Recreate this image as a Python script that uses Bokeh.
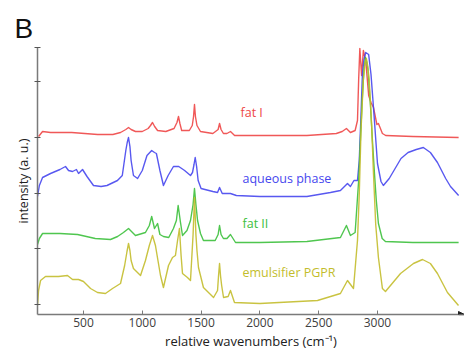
from bokeh.plotting import figure
from bokeh.models import FixedTicker, Label, Arrow, NormalHead
from bokeh.embed import file_html
from bokeh.resources import INLINE

# ---- data (relative wavenumber in cm^-1, stacked intensity in a.u.) ----
wn_fat1 = [118, 152, 220, 400, 620, 750, 815, 860, 883, 905, 942, 1000, 1050, 1070, 1087, 1105, 1130,
           1200, 1270, 1295, 1308, 1320, 1335, 1400, 1425, 1436, 1444, 1452, 1465, 1495, 1600, 1645,
           1657, 1670, 1690, 1720, 1750, 1785, 2000, 2400, 2650, 2700, 2736, 2770, 2810, 2830, 2840,
           2850, 2865, 2880, 2900, 2925, 2945, 2966, 2995, 3008, 3042, 3070, 3300, 3690]
int_fat1 = [178, 183, 182, 182, 180, 180, 182, 185, 187, 185, 183, 183, 186, 189, 192, 188, 184,
            183, 186, 192, 198, 191, 184, 184, 189, 198, 210, 198, 189, 183, 181, 185,
            191, 185, 181, 181, 183, 179, 179, 179, 181, 183, 186, 182, 184, 194, 235,
            266, 239, 264, 254, 219, 212, 207, 190, 191, 181, 179, 178, 177]

wn_aq = [109, 125, 152, 220, 300, 347, 373, 407, 440, 458, 492, 530, 585, 650, 700, 789, 830, 860,
         872, 883, 895, 905, 925, 960, 1000, 1040, 1080, 1104, 1120, 1150, 1180, 1220, 1265, 1310, 1360,
         1410, 1427, 1440, 1450, 1462, 1475, 1500, 1600, 1640, 1657, 1680, 1750, 1800, 2000, 2400, 2600,
         2685, 2745, 2770, 2800, 2830, 2845, 2860, 2872, 2885, 2900, 2925, 2945, 2966, 3000, 3030,
         3050, 3100, 3200, 3260, 3330, 3390, 3450, 3510, 3580, 3621, 3690]
int_aq = [118, 129, 137, 141, 145, 148, 144, 143, 145, 141, 145, 138, 129, 128, 129, 134, 139, 164,
          172, 177, 168, 154, 139, 136, 144, 159, 164, 162, 161, 144, 129, 139, 148, 148, 144,
          139, 142, 150, 157, 148, 134, 126, 123, 122, 127, 121, 121, 119, 118, 118, 122,
          124, 131, 128, 134, 134, 154, 200, 241, 255, 262, 260, 240, 207, 151, 133,
          129, 136, 156, 162, 165, 167, 162, 152, 136, 128, 119]

wn_fat2 = [109, 125, 152, 300, 450, 600, 730, 790, 840, 883, 942, 1027, 1060, 1080, 1104, 1130,
           1150, 1180, 1225, 1265, 1290, 1305, 1325, 1342, 1380, 1410, 1432, 1444, 1456, 1470, 1495,
           1520, 1620, 1645, 1657, 1670, 1690, 1720, 1750, 1793, 2000, 2400, 2685, 2736, 2770, 2810,
           2840, 2855, 2870, 2885, 2898, 2910, 2920, 2940, 2957, 2975, 2990, 3008, 3040, 3068, 3300,
           3690]
int_fat2 = [70, 76, 81, 81, 80, 76, 75, 78, 82, 86, 79, 82, 89, 98, 86, 91,
            80, 78, 77, 86, 94, 109, 92, 79, 84, 94, 110, 126, 110, 94, 81,
            74, 74, 80, 89, 80, 76, 76, 80, 72, 72, 73, 77, 89, 79, 82,
            134, 175, 214, 245, 257, 252, 244, 210, 174, 140, 114, 91, 76, 73, 72,
            72]

wn_pgpr = [109, 118, 135, 177, 288, 364, 407, 458, 500, 560, 619, 687, 747, 815, 850, 870, 883, 895,
           905, 925, 985, 1027, 1060, 1087, 1112, 1129, 1155, 1180, 1223, 1257, 1282, 1300, 1316, 1330,
           1342, 1384, 1410, 1432, 1444, 1456, 1465, 1478, 1520, 1606, 1640, 1648, 1657, 1666, 1675,
           1691, 1730, 1750, 1784, 2000, 2490, 2685, 2745, 2796, 2830, 2845, 2860, 2880, 2895, 2906,
           2918, 2930, 2950, 2966, 2985, 3008, 3042, 3068, 3196, 3306, 3383, 3450, 3510, 3595, 3689]
int_pgpr = [9, 24, 34, 38, 38, 39, 35, 35, 33, 26, 22, 21, 26, 31, 49, 63, 71, 64,
            54, 46, 39, 54, 69, 79, 69, 57, 39, 27, 49, 57, 59, 74, 86, 59,
            41, 37, 34, 80, 117, 80, 64, 47, 27, 17, 24, 38, 51, 38, 29,
            17, 18, 24, 12, 11, 14, 21, 34, 26, 74, 120, 184, 235, 252, 256,
            248, 234, 190, 141, 90, 57, 26, 23, 41, 51, 55, 51, 41, 22, 9]

series_names = ["fat I", "aqueous phase", "fat II", "emulsifier PGPR"]
series_colors = ["#ee4646", "#4646ee", "#3cc03c", "#c3bd2c"]
label_wn = [1835, 1852, 1852, 1852]
label_int = [202, 136, 91, 42]

x_ticks = [500, 1000, 1500, 2000, 2500, 3000]
y_ticks = [10, 66, 121, 177, 233, 267]

FONT = "Open Sans"

p = figure(width=464, height=350, output_backend="svg", toolbar_location=None,
           x_range=(109, 3740), y_range=(0, 267),
           min_border_left=37, min_border_right=0, min_border_top=47, min_border_bottom=36,
           frame_width=427, frame_height=267)
p.outline_line_color = None
p.grid.visible = False
p.background_fill_color = "white"

p.title.text = "B"
p.title.text_font = "Liberation Sans"
p.title.text_font_size = "28px"
p.title.text_font_style = "normal"
p.title.text_color = "#111111"
p.title.align = "left"
p.title.offset = -23
p.title.standoff = 8

curves = [(wn_fat1, int_fat1), (wn_aq, int_aq), (wn_fat2, int_fat2), (wn_pgpr, int_pgpr)]
for (xs, ys), c in zip(curves, series_colors):
    p.line(xs, ys, line_color=c, line_width=1.4, line_alpha=0.9, line_join="round")

for name, c, lx, ly in zip(series_names, series_colors, label_wn, label_int):
    p.add_layout(Label(x=lx, y=ly, text=name, text_color=c, text_font=FONT,
                       text_font_size="12.5px", text_baseline="middle", text_align="left"))

ax = p.xaxis[0]
ax.ticker = FixedTicker(ticks=x_ticks)
ax.axis_line_color = "#7a7a7a"
ax.axis_line_width = 1.5
ax.major_tick_line_color = "#7a7a7a"
ax.major_tick_in = 4
ax.major_tick_out = 0
ax.minor_tick_line_color = None
ax.major_label_text_font = FONT
ax.major_label_text_font_size = "12px"
ax.major_label_text_color = "#404040"
ax.major_label_standoff = 3
ax.axis_label = "relative wavenumbers (cm\u207b\u00b9)"
ax.axis_label_text_font = FONT
ax.axis_label_text_font_size = "13px"
ax.axis_label_text_font_style = "normal"
ax.axis_label_text_color = "#202020"
ax.axis_label_standoff = 2

ay = p.yaxis[0]
ay.ticker = FixedTicker(ticks=y_ticks)
ay.axis_line_color = "#7a7a7a"
ay.axis_line_width = 1.5
ay.major_tick_line_color = "#555555"
ay.major_tick_in = 3
ay.major_tick_out = 3
ay.minor_tick_line_color = None
ay.major_label_text_font_size = "0px"
ay.major_label_text_color = None
ay.major_label_standoff = 0
ay.axis_label = "intensity (a. u.)"
ay.axis_label_text_font = FONT
ay.axis_label_text_font_size = "12.5px"
ay.axis_label_text_font_style = "normal"
ay.axis_label_text_color = "#202020"
ay.axis_label_standoff = 3

p.add_layout(Arrow(x_start=3690, y_start=0, x_end=3740, y_end=0, line_color="#7a7a7a", line_width=1.5,
                   end=NormalHead(size=6, fill_color="#222222", line_color="#222222")))

html = file_html(p, INLINE)
open("out.html", "w").write(html)
